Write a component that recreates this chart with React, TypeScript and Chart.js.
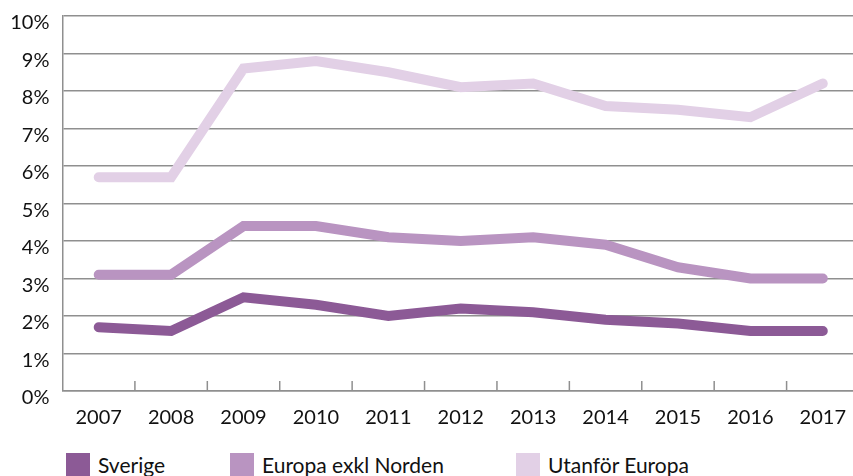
import React, { useEffect, useRef } from "react";
import { Chart, registerables } from "chart.js";

Chart.register(...registerables);

const categories = ["2007", "2008", "2009", "2010", "2011", "2012", "2013", "2014", "2015", "2016", "2017"];
const sverige = [1.7, 1.6, 2.5, 2.3, 2.0, 2.2, 2.1, 1.9, 1.8, 1.6, 1.6];
const europaExklNorden = [3.1, 3.1, 4.4, 4.4, 4.1, 4.0, 4.1, 3.9, 3.3, 3.0, 3.0];
const utanforEuropa = [5.7, 5.7, 8.6, 8.8, 8.5, 8.1, 8.2, 7.6, 7.5, 7.3, 8.2];
const seriesNames = ["Sverige", "Europa exkl Norden", "Utanför Europa"];
const seriesColors = ["#8C5A96", "#B994C1", "#E2D0E6"];
const yMin = 0;
const yMax = 10;
const yStep = 1;

const FONT = "Lato, 'DejaVu Sans', sans-serif";
const GRID = "#8f8f8f";

const innerTicks = {
  id: "innerTicks",
  afterDatasetsDraw(chart: any) {
    const x = chart.scales.x;
    const area = chart.chartArea;
    const ctx = chart.ctx;
    const n = categories.length;
    const half = (x.getPixelForValue(1) - x.getPixelForValue(0)) / 2;
    ctx.save();
    ctx.strokeStyle = GRID;
    ctx.lineWidth = 1.5;
    for (let i = 1; i < n; i++) {
      const px = x.getPixelForValue(i) - half;
      ctx.beginPath();
      ctx.moveTo(px, area.bottom - 10);
      ctx.lineTo(px, area.bottom);
      ctx.stroke();
    }
    ctx.restore();
  },
};

export default function App() {
  const ref = useRef<HTMLCanvasElement>(null);
  useEffect(() => {
    const values = [sverige, europaExklNorden, utanforEuropa];
    const chart = new Chart(ref.current as HTMLCanvasElement, {
      type: "line",
      data: {
        labels: categories,
        datasets: values.map((v, i) => ({
          label: seriesNames[i],
          data: v,
          borderColor: seriesColors[i],
          backgroundColor: seriesColors[i],
          borderWidth: 10,
          borderCapStyle: "round",
          borderJoinStyle: "miter",
          pointRadius: 0,
          tension: 0,
          fill: false,
        })),
      },
      options: {
        animation: false,
        responsive: false,
        maintainAspectRatio: false,
        layout: { padding: { top: 16, left: 0, right: 0, bottom: 0 } },
        plugins: { legend: { display: false }, tooltip: { enabled: false } },
        scales: {
          x: {
            offset: true,
            grid: { display: false, offset: true },
            border: { display: true, color: GRID, width: 1.5 },
            ticks: {
              color: "#111",
              font: { family: FONT, size: 20 },
              padding: 7,
              maxRotation: 0,
              autoSkip: false,
            },
            afterFit(scale: any) {
              scale.height = 49;
              scale.paddingLeft = 0;
              scale.paddingRight = 0;
            },
          },
          y: {
            min: yMin,
            max: yMax,
            grid: { color: GRID, lineWidth: 1.5, drawTicks: false },
            border: { display: true, color: GRID, width: 1.5 },
            ticks: {
              stepSize: yStep,
              color: "#111",
              font: { family: FONT, size: 20 },
              padding: 13,
              labelOffset: 7,
              callback: (v: any) => `${v}%`,
            },
            afterFit(scale: any) {
              scale.width = 62.5;
              scale.paddingTop = 0;
              scale.paddingBottom = 0;
            },
          },
        },
      },
      plugins: [innerTicks],
    });
    return () => chart.destroy();
  }, []);

  const legendLeft = [66, 230, 516];
  return (
    <div style={{ position: "fixed", left: 0, top: 0, width: 853, height: 476, overflow: "hidden", background: "#fff" }}>
      <canvas ref={ref} width={859} height={440} style={{ position: "absolute", left: 0, top: 0, width: 859, height: 440 }} />
      {seriesNames.map((name, i) => (
        <div key={name} style={{ position: "absolute", left: legendLeft[i], top: 453, height: 24, display: "flex", alignItems: "center", whiteSpace: "nowrap" }}>
          <span style={{ display: "inline-block", width: 24, height: 24, background: seriesColors[i] }} />
          <span style={{ marginLeft: 8, fontFamily: FONT, fontSize: 21, color: "#111", lineHeight: "24px" }}>{name}</span>
        </div>
      ))}
    </div>
  );
}
